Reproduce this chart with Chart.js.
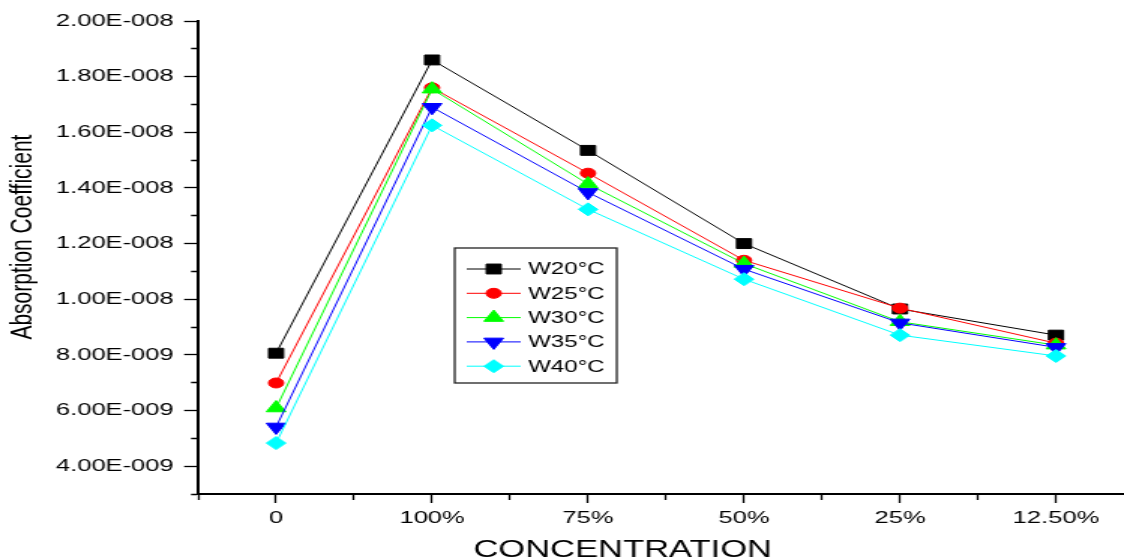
<!DOCTYPE html>
<html>
<head>
<meta charset="utf-8">
<title>Absorption Coefficient</title>
<script src="https://cdn.jsdelivr.net/npm/chart.js@4.4.1/dist/chart.umd.min.js"></script>
<style>
  html, body { margin: 0; padding: 0; background: #fff; overflow: hidden; }
  #chart { display: block; }
</style>
</head>
<body>
<!-- the original picture is stretched sideways, so the chart is drawn narrow and widened by css -->
<canvas id="chart" width="749" height="560" style="width:1124px;height:560px"></canvas>
<script>
const concentrations = ['0', '100%', '75%', '50%', '25%', '12.50%'];

const w20 = [8.06e-9, 1.86e-8, 1.535e-8, 1.20e-8, 9.65e-9, 8.71e-9];
const w25 = [6.99e-9, 1.76e-8, 1.453e-8, 1.14e-8, 9.68e-9, 8.42e-9];
const w30 = [6.09e-9, 1.755e-8, 1.414e-8, 1.128e-8, 9.19e-9, 8.35e-9];
const w35 = [5.41e-9, 1.69e-8, 1.384e-8, 1.108e-8, 9.15e-9, 8.27e-9];
const w40 = [4.83e-9, 1.625e-8, 1.323e-8, 1.072e-8, 8.71e-9, 7.96e-9];

const yTicks = [3e-9, 4e-9, 5e-9, 6e-9, 7e-9, 8e-9, 9e-9, 1e-8, 1.1e-8, 1.2e-8, 1.3e-8,
                1.4e-8, 1.5e-8, 1.6e-8, 1.7e-8, 1.8e-8, 1.9e-8, 2e-8];
// 5.5 lies just past the right edge of the picture
const xTicks = [-0.5, 0, 0.5, 1, 1.5, 2, 2.5, 3, 3.5, 4, 4.5, 5, 5.5];

const font = '"Liberation Sans", Arial, sans-serif';

function sci(v) {
  // 1.80E-008 style
  const parts = v.toExponential(2).split('e');
  const exp = parseInt(parts[1], 10);
  const sign = exp < 0 ? '-' : '+';
  return parts[0] + 'E' + sign + String(Math.abs(exp)).padStart(3, '0');
}

function isMajorY(v) { return Math.round(v * 1e9) % 2 === 0; }
function isMajorX(v) { return Number.isInteger(v); }

function series(label, values, color, style, radius, rotation, order) {
  return {
    label: label,
    data: values.map((v, i) => ({ x: i, y: v })),
    borderColor: color,
    backgroundColor: color,
    pointBackgroundColor: color,
    pointBorderColor: color,
    borderWidth: 1,
    pointStyle: style,
    pointRadius: radius,
    pointHoverRadius: radius,
    pointRotation: rotation,
    pointBorderWidth: 1,
    tension: 0,
    order: order
  };
}

const legendBox = {
  id: 'legendBox',
  afterDatasetsDraw(chart) {
    const ctx = chart.ctx;
    ctx.save();
    ctx.strokeStyle = '#222';
    ctx.lineWidth = 1.3;
    ctx.strokeRect(303, 248, 108, 135);
    chart.data.datasets.forEach((ds, i) => {
      const y = 269 + i * 24.3;
      ctx.strokeStyle = ds.borderColor;
      ctx.lineWidth = 1;
      ctx.beginPath();
      ctx.moveTo(311, y);
      ctx.lineTo(347, y);
      ctx.stroke();
      ctx.fillStyle = ds.pointBackgroundColor;
      Chart.helpers.drawPoint(ctx, {
        pointStyle: ds.pointStyle,
        radius: ds.pointRadius,
        rotation: ds.pointRotation,
        borderWidth: 1
      }, 329, y);
      ctx.fillStyle = '#000';
      ctx.font = '16px ' + font;
      ctx.textAlign = 'left';
      ctx.textBaseline = 'middle';
      ctx.fillText(ds.label, 352, y + 1);
    });
    ctx.restore();
  }
};

new Chart(document.getElementById('chart'), {
  type: 'line',
  data: {
    datasets: [
      series('W20°C', w20, '#000000', 'rect', 7, 0, 5),
      series('W25°C', w25, '#ff0000', 'circle', 5, 0, 4),
      series('W30°C', w30, '#00ff00', 'triangle', 7.5, 0, 3),
      series('W35°C', w35, '#0000ff', 'triangle', 7.5, 180, 2),
      series('W40°C', w40, '#00ffff', 'rectRot', 6.5, 0, 1)
    ]
  },
  options: {
    responsive: false,
    devicePixelRatio: 1,
    animation: false,
    layout: { autoPadding: false, padding: { top: 21, left: 0, right: 0, bottom: 0 } },
    plugins: {
      legend: { display: false },
      tooltip: { enabled: false }
    },
    scales: {
      x: {
        type: 'linear',
        min: -0.5,
        max: 5.436,
        afterBuildTicks: (scale) => { scale.ticks = xTicks.map(v => ({ value: v })); },
        afterFit: (scale) => {
          // the axis runs off the right edge of the picture, no room kept for labels
          scale.height = 66;
          scale.paddingLeft = 0;
          scale.paddingRight = 0;
        },
        border: { color: '#000', width: 2 },
        grid: {
          drawOnChartArea: false,
          color: '#000',
          tickLength: 9,
          tickWidth: 1.3,
          tickColor: '#000',
          tickBorderDash: (c) => isMajorX(c.tick.value) ? [] : [5, 100]
        },
        ticks: {
          autoSkip: false,
          maxRotation: 0,
          padding: 5,
          color: '#000',
          font: { family: font, size: 17 },
          callback: (v) => (isMajorX(v) && concentrations[v]) ? concentrations[v] : ''
        },
        title: {
          display: true,
          // trailing spaces pull the word left, as in the original
          text: 'CONCENTRATION        ',
          color: '#000',
          font: { family: font, size: 23 },
          padding: { top: 0, bottom: -4 }
        }
      },
      y: {
        min: 3e-9,
        max: 2e-8,
        afterBuildTicks: (scale) => { scale.ticks = yTicks.map(v => ({ value: v })); },
        afterFit: (scale) => { scale.width = 132; },
        border: { color: '#000', width: 2 },
        grid: {
          drawOnChartArea: false,
          color: '#000',
          tickLength: 9.3,
          tickWidth: 1.3,
          tickColor: '#000',
          tickBorderDash: (c) => isMajorY(c.tick.value) ? [] : [0, 4.6, 4.7, 100]
        },
        ticks: {
          autoSkip: false,
          padding: 7,
          color: '#000',
          font: { family: font, size: 17 },
          callback: (v) => isMajorY(v) ? sci(v) : ''
        },
        title: {
          display: true,
          text: '       Absorption Coefficient',
          color: '#000',
          font: { family: font, size: 21 },
          padding: { top: 3, bottom: 0 }
        }
      }
    }
  },
  plugins: [legendBox]
});
</script>
</body>
</html>
